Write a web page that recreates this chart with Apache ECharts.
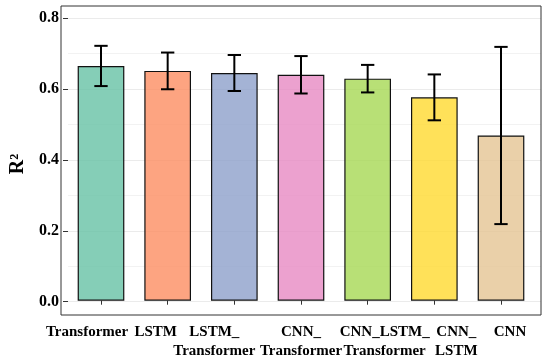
<!DOCTYPE html>
<html><head><meta charset="utf-8">
<script src="https://cdn.jsdelivr.net/npm/echarts@6/dist/echarts.min.js"></script>
<style>html,body{margin:0;padding:0;background:#fff}#c{width:550px;height:361px}</style>
</head><body><div id="c"></div>
<script>
const categories = ['Transformer', 'LSTM', 'LSTM_\nTransformer', 'CNN_\nTransformer', 'CNN_LSTM_\nTransformer', 'CNN_\nLSTM', 'CNN'];
const meanR2 = [0.665, 0.651, 0.645, 0.640, 0.629, 0.576, 0.468];
const sdR2 = [0.057, 0.052, 0.051, 0.053, 0.039, 0.065, 0.251];
const yTicks = [0.0, 0.2, 0.4, 0.6, 0.8];
const palette = ['#66C2A5', '#FC8D62', '#8DA0CB', '#E78AC3', '#A6D854', '#FFD92F', '#E5C494'];
const labelShift = [-14, -12, -20, 0, 17, 22, 9];

function rgba(hex, a) {
  const n = parseInt(hex.slice(1), 16);
  return `rgba(${(n >> 16) & 255},${(n >> 8) & 255},${n & 255},${a})`;
}
const font = 'Liberation Serif';
const chart = echarts.init(document.getElementById('c'), null, {renderer: 'canvas'});

// panel geometry
const pL = 61, pR = 541, pT = 6, pB = 315;
const unit = (pR - pL) / 7.2;
const y0 = 301.7, y8 = 18.3;

chart.setOption({
  animation: false,
  grid: [
    {left: pL, right: 550 - pR, top: pT, bottom: 361 - pB, show: true, borderColor: '#333', borderWidth: 1, backgroundColor: 'transparent', z: 5},
    {left: pL, right: 550 - pR, top: y8, bottom: 361 - y0},
    {left: pL + 0.1 * unit, right: 550 - pR + 0.1 * unit, top: y8, bottom: 361 - y0}
  ],
  xAxis: [
    {gridIndex: 0, type: 'value', show: false, min: 0, max: 1},
    {gridIndex: 1, type: 'value', show: false, min: 0, max: 1},
    {gridIndex: 2, type: 'category', data: categories.map((c, i) => ({
        value: c,
        textStyle: {padding: labelShift[i] > 0 ? [0, 0, 0, 2 * labelShift[i]] : [0, -2 * labelShift[i], 0, 0]}
      })),
      offset: pB - y0,
      axisLine: {show: false},
      axisTick: {show: true, alignWithLabel: true, length: 4, lineStyle: {color: '#333', width: 1}},
      axisLabel: {interval: 0, margin: 9, color: '#000', fontFamily: font, fontWeight: 'bold', fontSize: 15, lineHeight: 19},
      splitLine: {show: false}
    }
  ],
  yAxis: [
    {gridIndex: 0, type: 'value', show: false, min: 0, max: 1},
    {gridIndex: 1, type: 'value', min: yTicks[0], max: yTicks[yTicks.length - 1], interval: 0.2,
      name: 'R²', nameLocation: 'middle', nameRotate: 90, nameGap: 40,
      nameTextStyle: {fontFamily: font, fontWeight: 'bold', fontSize: 20, color: '#000', padding: [0, 8, 0, 0]},
      axisLine: {show: false},
      axisTick: {show: true, length: 5, lineStyle: {color: '#333', width: 1}},
      axisLabel: {margin: 9, color: '#000', fontFamily: font, fontWeight: 'bold', fontSize: 16,
        formatter: v => v.toFixed(1)},
      splitLine: {show: true, lineStyle: {color: '#EBEBEB', width: 1}},
      minorTick: {show: false, splitNumber: 2},
      minorSplitLine: {show: true, lineStyle: {color: '#F2F2F2', width: 1}}
    },
    {gridIndex: 2, type: 'value', show: false, min: yTicks[0], max: yTicks[yTicks.length - 1]}
  ],
  series: [
    {
      type: 'bar', xAxisIndex: 2, yAxisIndex: 2, barWidth: '70%',
      data: meanR2.map((v, i) => ({value: v, itemStyle: {color: rgba(palette[i], 0.8)}})),
      itemStyle: {borderColor: '#111', borderWidth: 1.2}
    },
    {
      type: 'custom', xAxisIndex: 2, yAxisIndex: 2, z: 10,
      data: meanR2.map((v, i) => [i, v - sdR2[i], v + sdR2[i]]),
      renderItem: function (params, api) {
        const lo = api.coord([api.value(0), api.value(1)]);
        const hi = api.coord([api.value(0), api.value(2)]);
        const half = api.size([1, 0])[0] * 0.1;
        const st = {stroke: '#000', lineWidth: 2};
        return {type: 'group', children: [
          {type: 'line', shape: {x1: hi[0], y1: hi[1], x2: lo[0], y2: lo[1]}, style: st},
          {type: 'line', shape: {x1: hi[0] - half, y1: hi[1], x2: hi[0] + half, y2: hi[1]}, style: st},
          {type: 'line', shape: {x1: lo[0] - half, y1: lo[1], x2: lo[0] + half, y2: lo[1]}, style: st}
        ]};
      }
    }
  ]
});
</script></body></html>
